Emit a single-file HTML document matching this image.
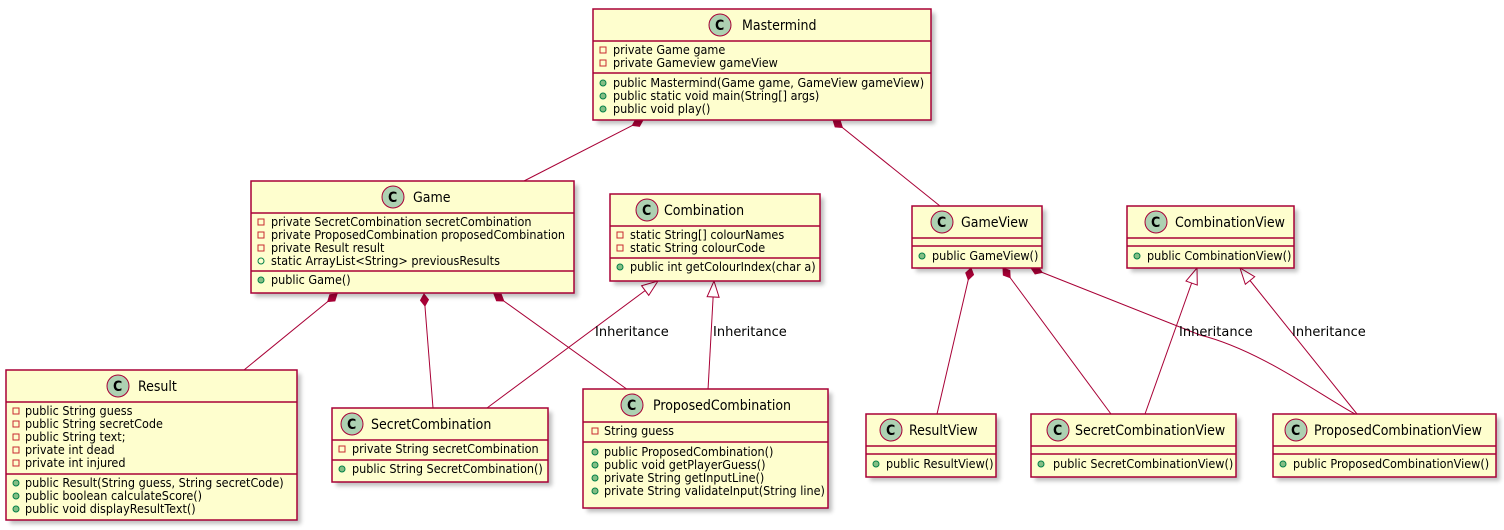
<!DOCTYPE html>
<html><head><meta charset="utf-8"><style>
html,body{margin:0;padding:0;background:#fff}
svg{display:block}
text{font-family:"DejaVu Sans Condensed","DejaVu Sans","Liberation Sans",sans-serif;font-stretch:condensed;fill:#000}
.t{font-size:14px}
.m{font-size:12.5px}
.b{fill:#FEFECE;stroke:#A80036;stroke-width:1.5}
.s{fill:#000;opacity:.25;filter:url(#bl)}
.l{stroke:#A80036;stroke-width:1.5}
.c{fill:#ADD1B2;stroke:#A80036;stroke-width:1}
.pr{fill:none;stroke:#C82930;stroke-width:1}
.pu{fill:#84BE84;stroke:#038048;stroke-width:1}
.e{stroke:#A80036;stroke-width:1;fill:none}
.lb{font-size:13px;font-family:"DejaVu Sans",sans-serif;font-stretch:normal}
</style></head><body>
<svg width="1504" height="530" viewBox="0 0 1504 530" xmlns="http://www.w3.org/2000/svg">
<defs>
<filter id="bl" x="-10%" y="-10%" width="130%" height="130%"><feGaussianBlur stdDeviation="2"/></filter>
<marker id="dm" markerWidth="14" markerHeight="10" refX="13" refY="5" orient="auto" markerUnits="userSpaceOnUse"><path d="M1,5 L7,1 L13,5 L7,9 Z" fill="#A80036" stroke="#A80036"/></marker>
<marker id="tr" markerWidth="18" markerHeight="14" refX="17" refY="7" orient="auto" markerUnits="userSpaceOnUse"><path d="M1,1 L17,7 L1,13 Z" fill="#fff" stroke="#A80036"/></marker>
</defs>

<path class="e" d="M524,181 L643,120" marker-end="url(#dm)"/>
<path class="e" d="M940,206 L833,120" marker-end="url(#dm)"/>
<path class="e" d="M244,370 L337,294" marker-end="url(#dm)"/>
<path class="e" d="M433,408 L424,294" marker-end="url(#dm)"/>
<path class="e" d="M628,390 L494,294" marker-end="url(#dm)"/>
<path class="e" d="M487,408 L658,281" marker-end="url(#tr)"/>
<path class="e" d="M708,390 L714,281" marker-end="url(#tr)"/>
<path class="e" d="M937,414 L971,268" marker-end="url(#dm)"/>
<path class="e" d="M1111,414 L1003,268" marker-end="url(#dm)"/>
<path class="e" d="M1355,414 C1320,395 1260,350 1200,335 L1031,268" marker-end="url(#dm)"/>
<path class="e" d="M1145,414 L1197,268" marker-end="url(#tr)"/>
<path class="e" d="M1357,414 L1240,268" marker-end="url(#tr)"/>
<text class="lb" x="595" y="336">Inheritance</text>
<text class="lb" x="713" y="336">Inheritance</text>
<text class="lb" x="1179" y="336">Inheritance</text>
<text class="lb" x="1292" y="336">Inheritance</text>

<!-- Mastermind -->
<rect class="s" x="597" y="13" width="338" height="111"/>
<rect class="b" x="593" y="9" width="338" height="111"/>
<circle class="c" cx="720" cy="25" r="11"/><text x="715" y="30" style="font-size:14px;font-weight:bold">C</text>
<text class="t" x="742" y="30">Mastermind</text>
<line class="l" x1="593" y1="41" x2="931" y2="41"/>
<rect class="pr" x="600" y="47" width="6" height="6"/><text class="m" x="613" y="54">private Game game</text>
<rect class="pr" x="600" y="60" width="6" height="6"/><text class="m" x="613" y="67">private Gameview gameView</text>
<line class="l" x1="593" y1="73" x2="931" y2="73"/>
<circle class="pu" cx="603" cy="83" r="3"/><text class="m" x="613" y="87">public Mastermind(Game game, GameView gameView)</text>
<circle class="pu" cx="603" cy="96" r="3"/><text class="m" x="613" y="100">public static void main(String[] args)</text>
<circle class="pu" cx="603" cy="109" r="3"/><text class="m" x="613" y="113">public void play()</text>

<!-- Game -->
<rect class="s" x="255" y="185" width="323" height="112"/>
<rect class="b" x="251" y="181" width="323" height="112"/>
<circle class="c" cx="393" cy="197" r="11"/><text x="388" y="202" style="font-size:14px;font-weight:bold">C</text>
<text class="t" x="413" y="202">Game</text>
<line class="l" x1="251" y1="213" x2="574" y2="213"/>
<rect class="pr" x="258" y="219" width="6" height="6"/><text class="m" x="271" y="226">private SecretCombination secretCombination</text>
<rect class="pr" x="258" y="232" width="6" height="6"/><text class="m" x="271" y="239">private ProposedCombination proposedCombination</text>
<rect class="pr" x="258" y="245" width="6" height="6"/><text class="m" x="271" y="252">private Result result</text>
<circle class="pu" cx="261" cy="261" r="3" style="fill:none"/><text class="m" x="271" y="265">static ArrayList&lt;String&gt; previousResults</text>
<line class="l" x1="251" y1="271" x2="574" y2="271"/>
<circle class="pu" cx="261" cy="280" r="3"/><text class="m" x="271" y="284">public Game()</text>

<!-- Combination -->
<rect class="s" x="614" y="198" width="210" height="87"/>
<rect class="b" x="610" y="194" width="210" height="87"/>
<circle class="c" cx="647" cy="210" r="11"/><text x="642" y="215" style="font-size:14px;font-weight:bold">C</text>
<text class="t" x="664" y="215">Combination</text>
<line class="l" x1="610" y1="226" x2="820" y2="226"/>
<rect class="pr" x="617" y="232" width="6" height="6"/><text class="m" x="630" y="239">static String[] colourNames</text>
<rect class="pr" x="617" y="245" width="6" height="6"/><text class="m" x="630" y="252">static String colourCode</text>
<line class="l" x1="610" y1="258" x2="820" y2="258"/>
<circle class="pu" cx="620" cy="267" r="3"/><text class="m" x="630" y="271">public int getColourIndex(char a)</text>

<!-- GameView -->
<rect class="s" x="916" y="210" width="130" height="62"/>
<rect class="b" x="912" y="206" width="130" height="62"/>
<circle class="c" cx="942" cy="222" r="11"/><text x="937" y="227" style="font-size:14px;font-weight:bold">C</text>
<text class="t" x="961" y="227">GameView</text>
<line class="l" x1="912" y1="238" x2="1042" y2="238"/>
<line class="l" x1="912" y1="246" x2="1042" y2="246"/>
<circle class="pu" cx="922" cy="256" r="3"/><text class="m" x="932" y="260">public GameView()</text>

<!-- CombinationView -->
<rect class="s" x="1131" y="210" width="167" height="62"/>
<rect class="b" x="1127" y="206" width="167" height="62"/>
<circle class="c" cx="1156" cy="222" r="11"/><text x="1151" y="227" style="font-size:14px;font-weight:bold">C</text>
<text class="t" x="1175" y="227">CombinationView</text>
<line class="l" x1="1127" y1="238" x2="1294" y2="238"/>
<line class="l" x1="1127" y1="246" x2="1294" y2="246"/>
<circle class="pu" cx="1137" cy="256" r="3"/><text class="m" x="1147" y="260">public CombinationView()</text>

<!-- Result -->
<rect class="s" x="10" y="374" width="291" height="150"/>
<rect class="b" x="6" y="370" width="291" height="150"/>
<circle class="c" cx="118" cy="386" r="11"/><text x="113" y="391" style="font-size:14px;font-weight:bold">C</text>
<text class="t" x="138" y="391">Result</text>
<line class="l" x1="6" y1="402" x2="297" y2="402"/>
<rect class="pr" x="13" y="408" width="6" height="6"/><text class="m" x="25" y="415">public String guess</text>
<rect class="pr" x="13" y="421" width="6" height="6"/><text class="m" x="25" y="428">public String secretCode</text>
<rect class="pr" x="13" y="434" width="6" height="6"/><text class="m" x="25" y="441">public String text;</text>
<rect class="pr" x="13" y="447" width="6" height="6"/><text class="m" x="25" y="454">private int dead</text>
<rect class="pr" x="13" y="460" width="6" height="6"/><text class="m" x="25" y="467">private int injured</text>
<line class="l" x1="6" y1="474" x2="297" y2="474"/>
<circle class="pu" cx="16" cy="483" r="3"/><text class="m" x="25" y="487">public Result(String guess, String secretCode)</text>
<circle class="pu" cx="16" cy="496" r="3"/><text class="m" x="25" y="500">public boolean calculateScore()</text>
<circle class="pu" cx="16" cy="509" r="3"/><text class="m" x="25" y="513">public void displayResultText()</text>

<!-- SecretCombination -->
<rect class="s" x="336" y="412" width="216" height="74"/>
<rect class="b" x="332" y="408" width="216" height="74"/>
<circle class="c" cx="352" cy="424" r="11"/><text x="347" y="429" style="font-size:14px;font-weight:bold">C</text>
<text class="t" x="371" y="429">SecretCombination</text>
<line class="l" x1="332" y1="440" x2="548" y2="440"/>
<rect class="pr" x="339" y="446" width="6" height="6"/><text class="m" x="352" y="453">private String secretCombination</text>
<line class="l" x1="332" y1="460" x2="548" y2="460"/>
<circle class="pu" cx="342" cy="469" r="3"/><text class="m" x="352" y="473">public String SecretCombination()</text>

<!-- ProposedCombination -->
<rect class="s" x="587" y="393" width="245" height="119"/>
<rect class="b" x="583" y="389" width="245" height="119"/>
<circle class="c" cx="632" cy="405" r="11"/><text x="627" y="410" style="font-size:14px;font-weight:bold">C</text>
<text class="t" x="653" y="410">ProposedCombination</text>
<line class="l" x1="583" y1="422" x2="828" y2="422"/>
<rect class="pr" x="592" y="428" width="6" height="6"/><text class="m" x="604" y="435">String guess</text>
<line class="l" x1="583" y1="442" x2="828" y2="442"/>
<circle class="pu" cx="595" cy="452" r="3"/><text class="m" x="604" y="456">public ProposedCombination()</text>
<circle class="pu" cx="595" cy="465" r="3"/><text class="m" x="604" y="469">public void getPlayerGuess()</text>
<circle class="pu" cx="595" cy="478" r="3"/><text class="m" x="604" y="482">private String getInputLine()</text>
<circle class="pu" cx="595" cy="491" r="3"/><text class="m" x="604" y="495">private String validateInput(String line)</text>

<!-- ResultView -->
<rect class="s" x="870" y="418" width="130" height="63"/>
<rect class="b" x="866" y="414" width="130" height="63"/>
<circle class="c" cx="891" cy="430" r="11"/><text x="886" y="435" style="font-size:14px;font-weight:bold">C</text>
<text class="t" x="909" y="435">ResultView</text>
<line class="l" x1="866" y1="446" x2="996" y2="446"/>
<line class="l" x1="866" y1="454" x2="996" y2="454"/>
<circle class="pu" cx="876" cy="464" r="3"/><text class="m" x="886" y="468">public ResultView()</text>

<!-- SecretCombinationView -->
<rect class="s" x="1035" y="418" width="205" height="63"/>
<rect class="b" x="1031" y="414" width="205" height="63"/>
<circle class="c" cx="1058" cy="430" r="11"/><text x="1053" y="435" style="font-size:14px;font-weight:bold">C</text>
<text class="t" x="1075" y="435">SecretCombinationView</text>
<line class="l" x1="1031" y1="446" x2="1236" y2="446"/>
<line class="l" x1="1031" y1="454" x2="1236" y2="454"/>
<circle class="pu" cx="1041" cy="464" r="3"/><text class="m" x="1053" y="468">public SecretCombinationView()</text>

<!-- ProposedCombinationView -->
<rect class="s" x="1277" y="418" width="223" height="63"/>
<rect class="b" x="1273" y="414" width="223" height="63"/>
<circle class="c" cx="1296" cy="430" r="11"/><text x="1291" y="435" style="font-size:14px;font-weight:bold">C</text>
<text class="t" x="1314" y="435">ProposedCombinationView</text>
<line class="l" x1="1273" y1="446" x2="1496" y2="446"/>
<line class="l" x1="1273" y1="454" x2="1496" y2="454"/>
<circle class="pu" cx="1283" cy="464" r="3"/><text class="m" x="1293" y="468">public ProposedCombinationView()</text>
</svg>
</body></html>
